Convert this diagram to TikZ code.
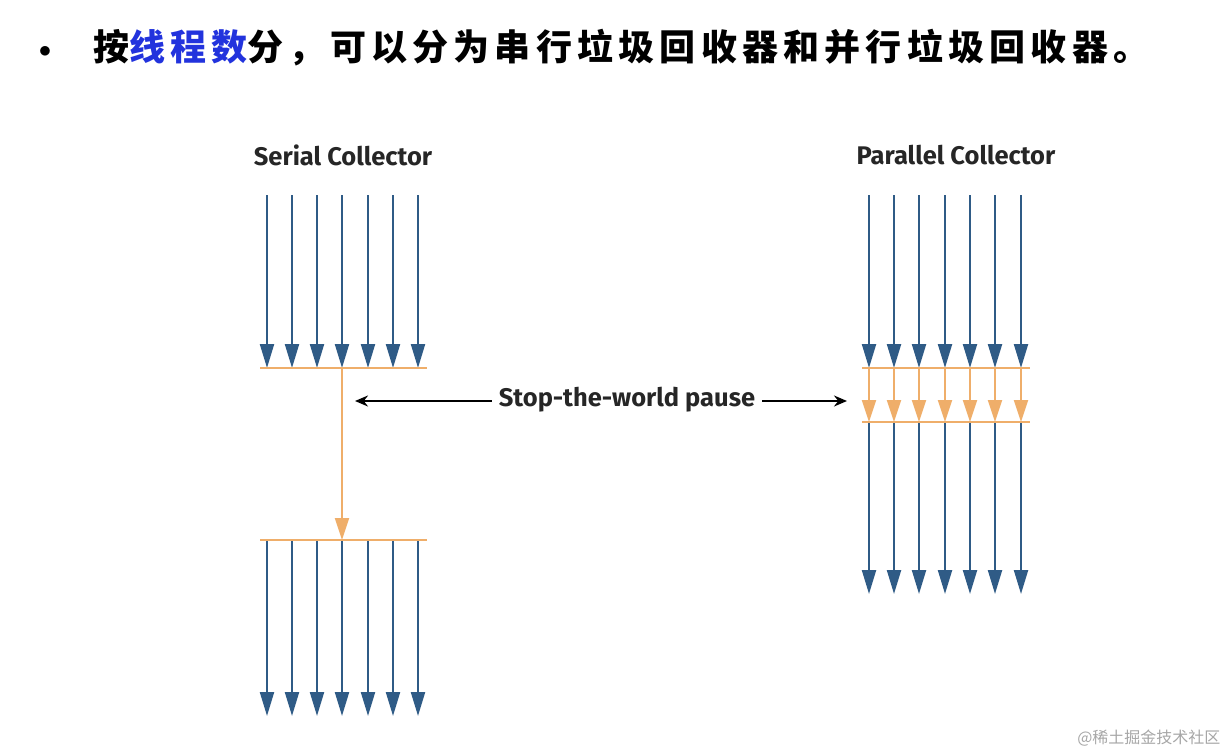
\documentclass[tikz,border=0pt]{standalone}
\usepackage{fontspec}
\setmainfont{Fira Sans}
\newfontfamily\cjk{Noto Sans CJK SC}
\usetikzlibrary{arrows.meta}
\definecolor{tblue}{HTML}{2F5B86}
\definecolor{torange}{HTML}{EFAE6A}
\definecolor{tlink}{HTML}{2233DD}
\tikzset{
  thr/.style={draw=tblue,line width=2.2pt,-{Triangle[width=14pt,length=24pt]}},
  othr/.style={draw=torange,line width=2pt,-{Triangle[width=14pt,length=22pt]}},
  bar/.style={draw=torange,line width=2.2pt},
  ttl/.style={font=\fontsize{25.5}{28}\selectfont\bfseries,text=black!85},
  lbl/.style={draw=black,line width=2pt,-{Stealth[length=13pt,width=11pt]}}
}
\begin{document}
\begin{tikzpicture}[x=1pt,y=-1pt]
\useasboundingbox (0,0) rectangle (1230,754);
\node[anchor=center] (bul) at (45,52) {\fontsize{26}{28}\selectfont$\bullet$};
\node[anchor=west,inner sep=0] (head) at (93,48) {\cjk\addfontfeature{LetterSpace=14.5}\fontsize{36}{40}\selectfont\bfseries 按\textcolor{tlink}{线程数}分，可以分为串行垃圾回收器和并行垃圾回收器。};
\node[ttl] (st) at (343,155) {Serial Collector};
\node[ttl] (pt) at (956,155) {Parallel Collector};
\node[ttl,inner sep=2pt] (stw) at (627,400) {Stop-the-world pause};
% serial
\foreach \i/\x in {1/267,2/292,3/317,4/342,5/368,6/393,7/418}{
  \coordinate (sa\i) at (\x,195); \coordinate (sb\i) at (\x,368);
  \coordinate (sc\i) at (\x,540); \coordinate (sd\i) at (\x,716);
  \draw[thr] (sa\i) -- (sb\i);
  \draw[thr] (sc\i) -- (sd\i);
}
\coordinate (s1l) at (260,368); \coordinate (s1r) at (427,368);
\coordinate (s2l) at (260,540); \coordinate (s2r) at (427,540);
\draw[bar] (s1l) -- (s1r);
\draw[bar] (s2l) -- (s2r);
\draw[othr] (sb4) -- (sc4);
% parallel
\foreach \i/\x in {1/869,2/894,3/919,4/945,5/970,6/995,7/1021}{
  \coordinate (pa\i) at (\x,195); \coordinate (pb\i) at (\x,368);
  \coordinate (pc\i) at (\x,422); \coordinate (pd\i) at (\x,594);
  \draw[thr] (pa\i) -- (pb\i);
  \draw[othr] (pb\i) -- (pc\i);
  \draw[thr] (pc\i) -- (pd\i);
}
\coordinate (p1l) at (862,368); \coordinate (p1r) at (1030,368);
\coordinate (p2l) at (862,422); \coordinate (p2r) at (1030,422);
\draw[bar] (p1l) -- (p1r);
\draw[bar] (p2l) -- (p2r);
\coordinate (la) at (355,401); \coordinate (ra) at (847,401);
\draw[lbl] (stw.west) ++(-5,1) -- (la);
\draw[lbl] (stw.east) ++(5,1) -- (ra);
\node[anchor=east,text=black!35,font=\cjk\fontsize{16}{18}\selectfont] (wm) at (1224,738) {@稀土掘金技术社区};
\end{tikzpicture}
\end{document}
